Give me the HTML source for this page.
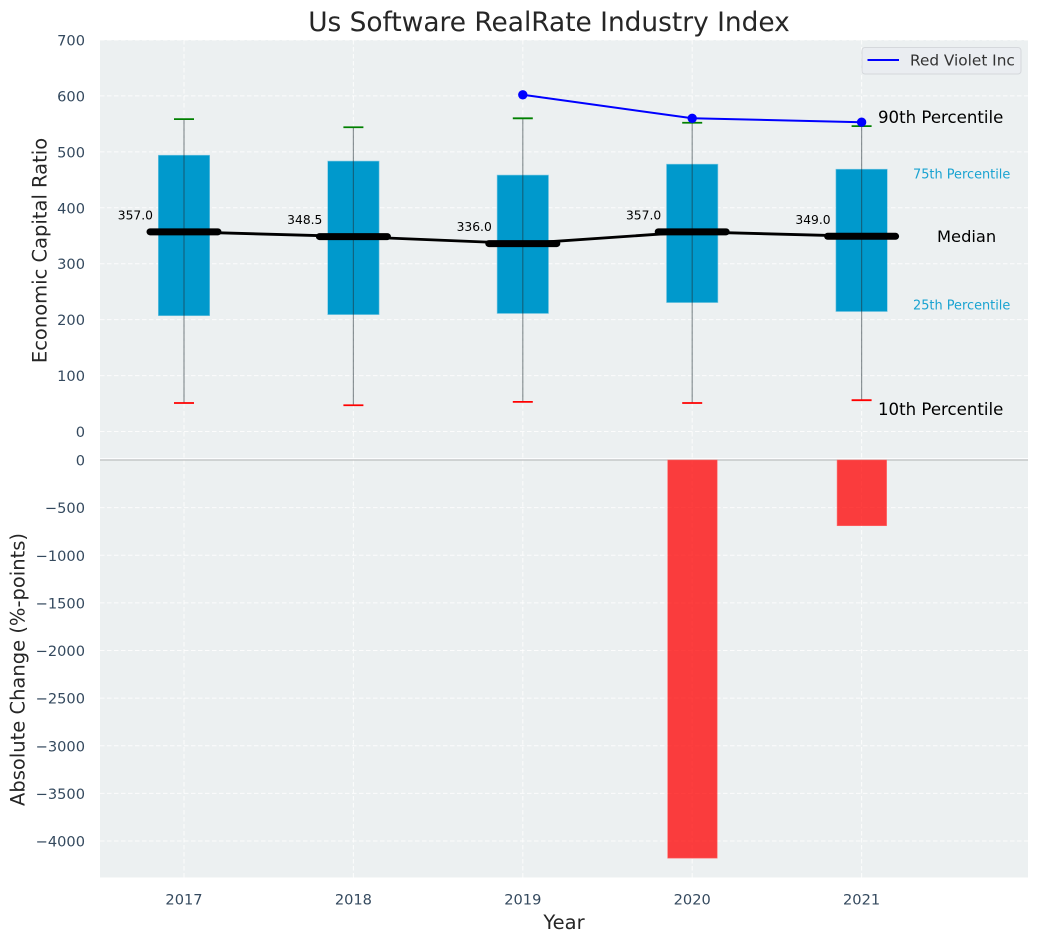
<!DOCTYPE html>
<html>
<head>
<meta charset="utf-8">
<style>
html,body{margin:0;padding:0;background:#fff;}
svg{display:block;font-family:"DejaVu Sans","Liberation Sans",sans-serif;}
</style>
</head>
<body>
<svg id="chart" xmlns="http://www.w3.org/2000/svg" width="1039" height="942" viewBox="0 0 1039 942">
  <text x="549" y="31" font-size="26.4" fill="#262626" text-anchor="middle">Us Software RealRate Industry Index</text>
  <rect x="100" y="40" width="928" height="419" fill="#ecf0f1"/>
  <rect x="100" y="459" width="928" height="418.5" fill="#ecf0f1"/>
  <g id="grid"></g>
  <g id="bottom"></g>
  <g id="top"></g>
  <g id="ticks" font-size="14.6" fill="#34495e"></g>
  <text transform="translate(46.5,250.5) rotate(-90)" font-size="19.5" fill="#262626" text-anchor="middle">Economic Capital Ratio</text>
  <text transform="translate(24.5,669.5) rotate(-90)" font-size="19.5" fill="#262626" text-anchor="middle">Absolute Change (%-points)</text>
  <text x="564" y="929" font-size="19.5" fill="#262626" text-anchor="middle">Year</text>
  <g>
    <rect x="862" y="47.5" width="159" height="26.5" rx="3" fill="#eaedf1" stroke="#d5d8dc" stroke-width="1"/>
    <line x1="867.5" x2="899" y1="60" y2="60" stroke="#0000ff" stroke-width="2"/>
    <text x="910" y="65.5" font-size="15.3" fill="#333333">Red Violet Inc</text>
  </g>
</svg>
<script>
var years = [2017, 2018, 2019, 2020, 2021];
var p90 = [558.5, 544, 560, 552, 546];
var p75 = [494, 483.5, 458.5, 478, 469];
var median = [357.0, 348.5, 336.0, 357.0, 349.0];
var p25 = [207, 209, 211, 230.5, 214.5];
var p10 = [51, 47, 53, 51, 56];
var company = [null, null, 602, 560, 553];
var change = [null, null, null, -4180, -690];
var topTicks = [0, 100, 200, 300, 400, 500, 600, 700];
var bottomTicks = [0, -500, -1000, -1500, -2000, -2500, -3000, -3500, -4000];

var NS = 'http://www.w3.org/2000/svg';
function x(v) { return 184 + (v - 2017) * 169.4; }
function yTop(v) { return 431.5 - v * 0.5593; }
function yBot(v) { return 460 + v * -0.09525; }
function make(parent, tag, attrs, text) {
  var el = document.createElementNS(NS, tag);
  for (var k in attrs) { el.setAttribute(k, attrs[k]); }
  if (text !== undefined) { el.textContent = text; }
  parent.appendChild(el);
  return el;
}
function fmtTick(v) { return v < 0 ? '\u2212' + Math.abs(v) : String(v); }

var grid = document.getElementById('grid');
var topG = document.getElementById('top');
var botG = document.getElementById('bottom');
var ticks = document.getElementById('ticks');
var el;
var dash = '4.5 2.5';

years.forEach(function (yr) {
  el = make(grid, 'line', { x1: x(yr), x2: x(yr), y1: 40, y2: 877.5, stroke: '#ffffff', 'stroke-width': 1, 'stroke-dasharray': dash, opacity: 0.85 });
  
  
  el = make(ticks, 'text', { x: x(yr), y: 904.5, 'text-anchor': 'middle' }, String(yr));
  
  
});
topTicks.forEach(function (t) {
  el = make(grid, 'line', { x1: 100, x2: 1028, y1: yTop(t), y2: yTop(t), stroke: '#ffffff', 'stroke-width': 1, 'stroke-dasharray': dash, opacity: 0.85 });
  
  
  el = make(ticks, 'text', { x: 85, y: yTop(t) + 5.5, 'text-anchor': 'end' }, fmtTick(t));
  
  
});
bottomTicks.forEach(function (t) {
  if (t !== 0) {
    el = make(grid, 'line', { x1: 100, x2: 1028, y1: yBot(t), y2: yBot(t), stroke: '#ffffff', 'stroke-width': 1, 'stroke-dasharray': dash, opacity: 0.85 });
    
    
  }
  el = make(ticks, 'text', { x: 85, y: yBot(t) + 5.5, 'text-anchor': 'end' }, fmtTick(t));
  
  
});

el = make(botG, 'line', { x1: 100, x2: 1028, y1: 458.7, y2: 458.7, stroke: '#ffffff', 'stroke-width': 1.2 });


el = make(botG, 'line', { x1: 100, x2: 1028, y1: 460, y2: 460, stroke: '#bdbfc0', 'stroke-width': 1.2 });



years.forEach(function (yr, i) {
  if (change[i] === null) { return; }
  var h = yBot(change[i]) - yBot(0);
  el = make(botG, 'rect', { x: x(yr) - 24.5, y: yBot(0), width: 49.5, height: h, fill: '#ff0000', 'fill-opacity': 0.75, stroke: '#ff6b6b', 'stroke-width': 0.6 });
  
  
});

years.forEach(function (yr, i) {
  el = make(topG, 'rect', { x: x(yr) - 25.7, y: yTop(p75[i]), width: 51.4, height: yTop(p25[i]) - yTop(p75[i]), fill: '#0099cc', stroke: '#7cc8e2', 'stroke-width': 0.6 });
  
  
});
years.forEach(function (yr, i) {
  el = make(topG, 'line', { x1: x(yr), x2: x(yr), y1: yTop(p90[i]), y2: yTop(p10[i]), stroke: '#1f2d33', 'stroke-opacity': 0.5, 'stroke-width': 1.2 });
  
  
  el = make(topG, 'line', { x1: x(yr) - 10, x2: x(yr) + 10, y1: yTop(p90[i]), y2: yTop(p90[i]), stroke: '#008000', 'stroke-width': 1.8 });
  
  
  el = make(topG, 'line', { x1: x(yr) - 10, x2: x(yr) + 10, y1: yTop(p10[i]), y2: yTop(p10[i]), stroke: '#ff0000', 'stroke-width': 1.8 });
  
  
});

var medPts = years.map(function (yr, i) { return x(yr) + ',' + yTop(median[i]); }).join(' ');
el = make(topG, 'polyline', { points: medPts, fill: 'none', stroke: '#000000', 'stroke-width': 2.8 });


years.forEach(function (yr, i) {
  el = make(topG, 'line', { x1: x(yr) - 34, x2: x(yr) + 34, y1: yTop(median[i]), y2: yTop(median[i]), stroke: '#000000', 'stroke-width': 7, 'stroke-linecap': 'round' });
  
  
  el = make(topG, 'text', { x: x(yr) - 31, y: yTop(median[i]) - 12.5, 'text-anchor': 'end', 'font-size': 12.3, fill: '#000000' }, median[i].toFixed(1));
  
  
});

var compPts = [];
years.forEach(function (yr, i) {
  if (company[i] !== null) { compPts.push(x(yr) + ',' + yTop(company[i])); }
});
el = make(topG, 'polyline', { points: compPts.join(' '), fill: 'none', stroke: '#0000ff', 'stroke-width': 2 });


years.forEach(function (yr, i) {
  if (company[i] === null) { return; }
  el = make(topG, 'circle', { cx: x(yr), cy: yTop(company[i]), r: 4.7, fill: '#0000ff' });
  
  
});

var last = years.length - 1;
el = make(topG, 'text', { x: 878, y: yTop(p90[last]) - 3, 'font-size': 16.6, fill: '#000000' }, '90th Percentile');


el = make(topG, 'text', { x: 913, y: yTop(p75[last]) + 9.5, 'font-size': 12.9, fill: '#1aa3d1' }, '75th Percentile');


el = make(topG, 'text', { x: 937, y: yTop(median[last]) + 5.5, 'font-size': 16.3, fill: '#000000' }, 'Median');


el = make(topG, 'text', { x: 913, y: yTop(p25[last]) - 2, 'font-size': 12.9, fill: '#1aa3d1' }, '25th Percentile');


el = make(topG, 'text', { x: 878, y: yTop(p10[last]) + 15, 'font-size': 16.6, fill: '#000000' }, '10th Percentile');


</script>
</body>
</html>
